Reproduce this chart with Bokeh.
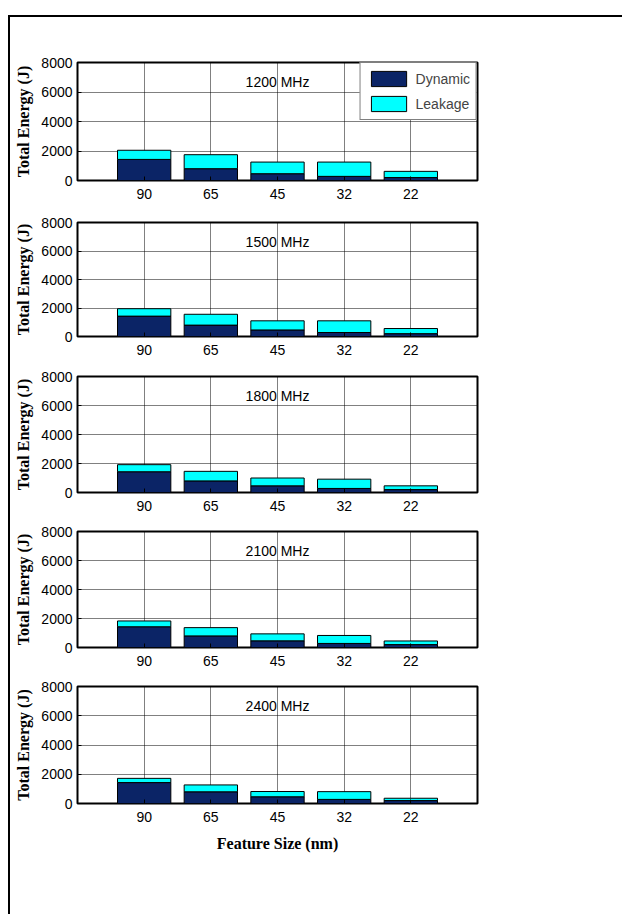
from bokeh.plotting import figure
from bokeh.layouts import column, row
from bokeh.models import (ColumnDataSource, Range1d, FixedTicker, Label, Spacer)
from bokeh.embed import file_html
from bokeh.resources import INLINE

# ---------------- data ----------------
feature_sizes = ["90", "65", "45", "32", "22"]
frequencies = ["1200 MHz", "1500 MHz", "1800 MHz", "2100 MHz", "2400 MHz"]

dynamic_1200 = [1430, 800, 460, 280, 200]
leakage_1200 = [620, 950, 790, 970, 420]
dynamic_1500 = [1430, 800, 460, 280, 200]
leakage_1500 = [520, 760, 640, 820, 360]
dynamic_1800 = [1430, 800, 460, 280, 200]
leakage_1800 = [490, 660, 540, 640, 260]
dynamic_2100 = [1430, 800, 460, 280, 200]
leakage_2100 = [400, 570, 480, 550, 250]
dynamic_2400 = [1430, 800, 460, 280, 200]
leakage_2400 = [290, 470, 360, 530, 160]

y_ticks = [0, 2000, 4000, 6000, 8000]

dynamic_all = [dynamic_1200, dynamic_1500, dynamic_1800, dynamic_2100, dynamic_2400]
leakage_all = [leakage_1200, leakage_1500, leakage_1800, leakage_2100, leakage_2400]

# ---------------- layout ----------------
NAVY = "#0b2466"
CYAN = "#00ffff"
SANS = "Liberation Sans"
SERIF = "Liberation Serif"

frame_tops = [45, 14, 12, 11, 11]
frame_hs = [118, 114, 116, 116, 117]
frame_bottoms = [28, 28, 28, 28, 111]

figs = []
xpos = list(range(1, len(feature_sizes) + 1))
for i, freq in enumerate(frequencies):
    src = ColumnDataSource(dict(x=xpos, dyn=dynamic_all[i], leak=leakage_all[i]))
    p = figure(frame_width=400, frame_height=frame_hs[i],
               min_border_left=67, min_border_right=145,
               min_border_top=frame_tops[i], min_border_bottom=frame_bottoms[i],
               x_range=Range1d(0, 6), y_range=Range1d(0, 8000),
               output_backend="svg", toolbar_location=None,
               background_fill_color="white", border_fill_color="white")
    kw = {}
    if i == 0:
        kw["legend_label"] = ["Dynamic", "Leakage"]
    p.vbar_stack(["dyn", "leak"], x="x", width=0.8, color=[NAVY, CYAN],
                 line_color="black", line_width=1, source=src, **kw)

    p.outline_line_color = "black"
    p.outline_line_width = 2

    for ax in (p.xaxis[0], p.yaxis[0]):
        ax.axis_line_color = None
        ax.major_tick_in = 4
        ax.major_tick_out = 0
        ax.major_tick_line_color = "black"
        ax.minor_tick_line_color = None
        ax.major_label_text_font = SANS
        ax.major_label_text_font_size = "14px"
        ax.major_label_text_color = "black"
    p.xaxis.ticker = FixedTicker(ticks=xpos)
    p.xaxis.major_label_overrides = {x: s for x, s in zip(xpos, feature_sizes)}
    p.xaxis.major_label_standoff = 8
    p.yaxis.ticker = FixedTicker(ticks=y_ticks)
    p.yaxis.major_label_standoff = 5

    p.yaxis.axis_label = "Total Energy (J)"
    p.yaxis.axis_label_text_font = SERIF
    p.yaxis.axis_label_text_font_style = "bold"
    p.yaxis.axis_label_text_font_size = "16px"
    p.yaxis.axis_label_text_color = "black"
    p.yaxis.axis_label_standoff = 6
    if i == len(frequencies) - 1:
        p.xaxis.axis_label = "Feature Size (nm)"
        p.xaxis.axis_label_text_font = SERIF
        p.xaxis.axis_label_text_font_style = "bold"
        p.xaxis.axis_label_text_font_size = "16px"
        p.xaxis.axis_label_text_color = "black"
        p.xaxis.axis_label_standoff = 10

    for g in (p.xgrid[0], p.ygrid[0]):
        g.grid_line_color = "black"
        g.grid_line_dash = "1 1"
        g.grid_line_width = 1
        g.grid_line_alpha = 1.0
    p.xgrid.ticker = FixedTicker(ticks=xpos)
    p.ygrid.ticker = FixedTicker(ticks=y_ticks)

    p.add_layout(Label(x=3, y=6650, text=freq, text_align="center",
                       text_baseline="middle", text_font=SANS,
                       text_font_size="14px", text_color="black"))

    if i == 0:
        lg = p.legend[0]
        lg.location = "top_right"
        lg.margin = 0
        lg.padding = 6
        lg.spacing = 6
        lg.glyph_width = 44
        lg.glyph_height = 19
        lg.label_standoff = 5
        lg.label_text_font = SANS
        lg.label_text_font_size = "14px"
        lg.label_height = 19
        lg.border_line_color = "black"
        lg.border_line_width = 1
        lg.background_fill_alpha = 1.0
    figs.append(p)

inner = column(*figs, spacing=0,
               styles={"border-left": "2px solid black", "border-top": "2px solid black"})
right_col = column(Spacer(width=10, height=15), inner, spacing=0)
layout = row(Spacer(width=8, height=10), right_col, spacing=0)

open("out.html", "w").write(file_html(layout, INLINE))
